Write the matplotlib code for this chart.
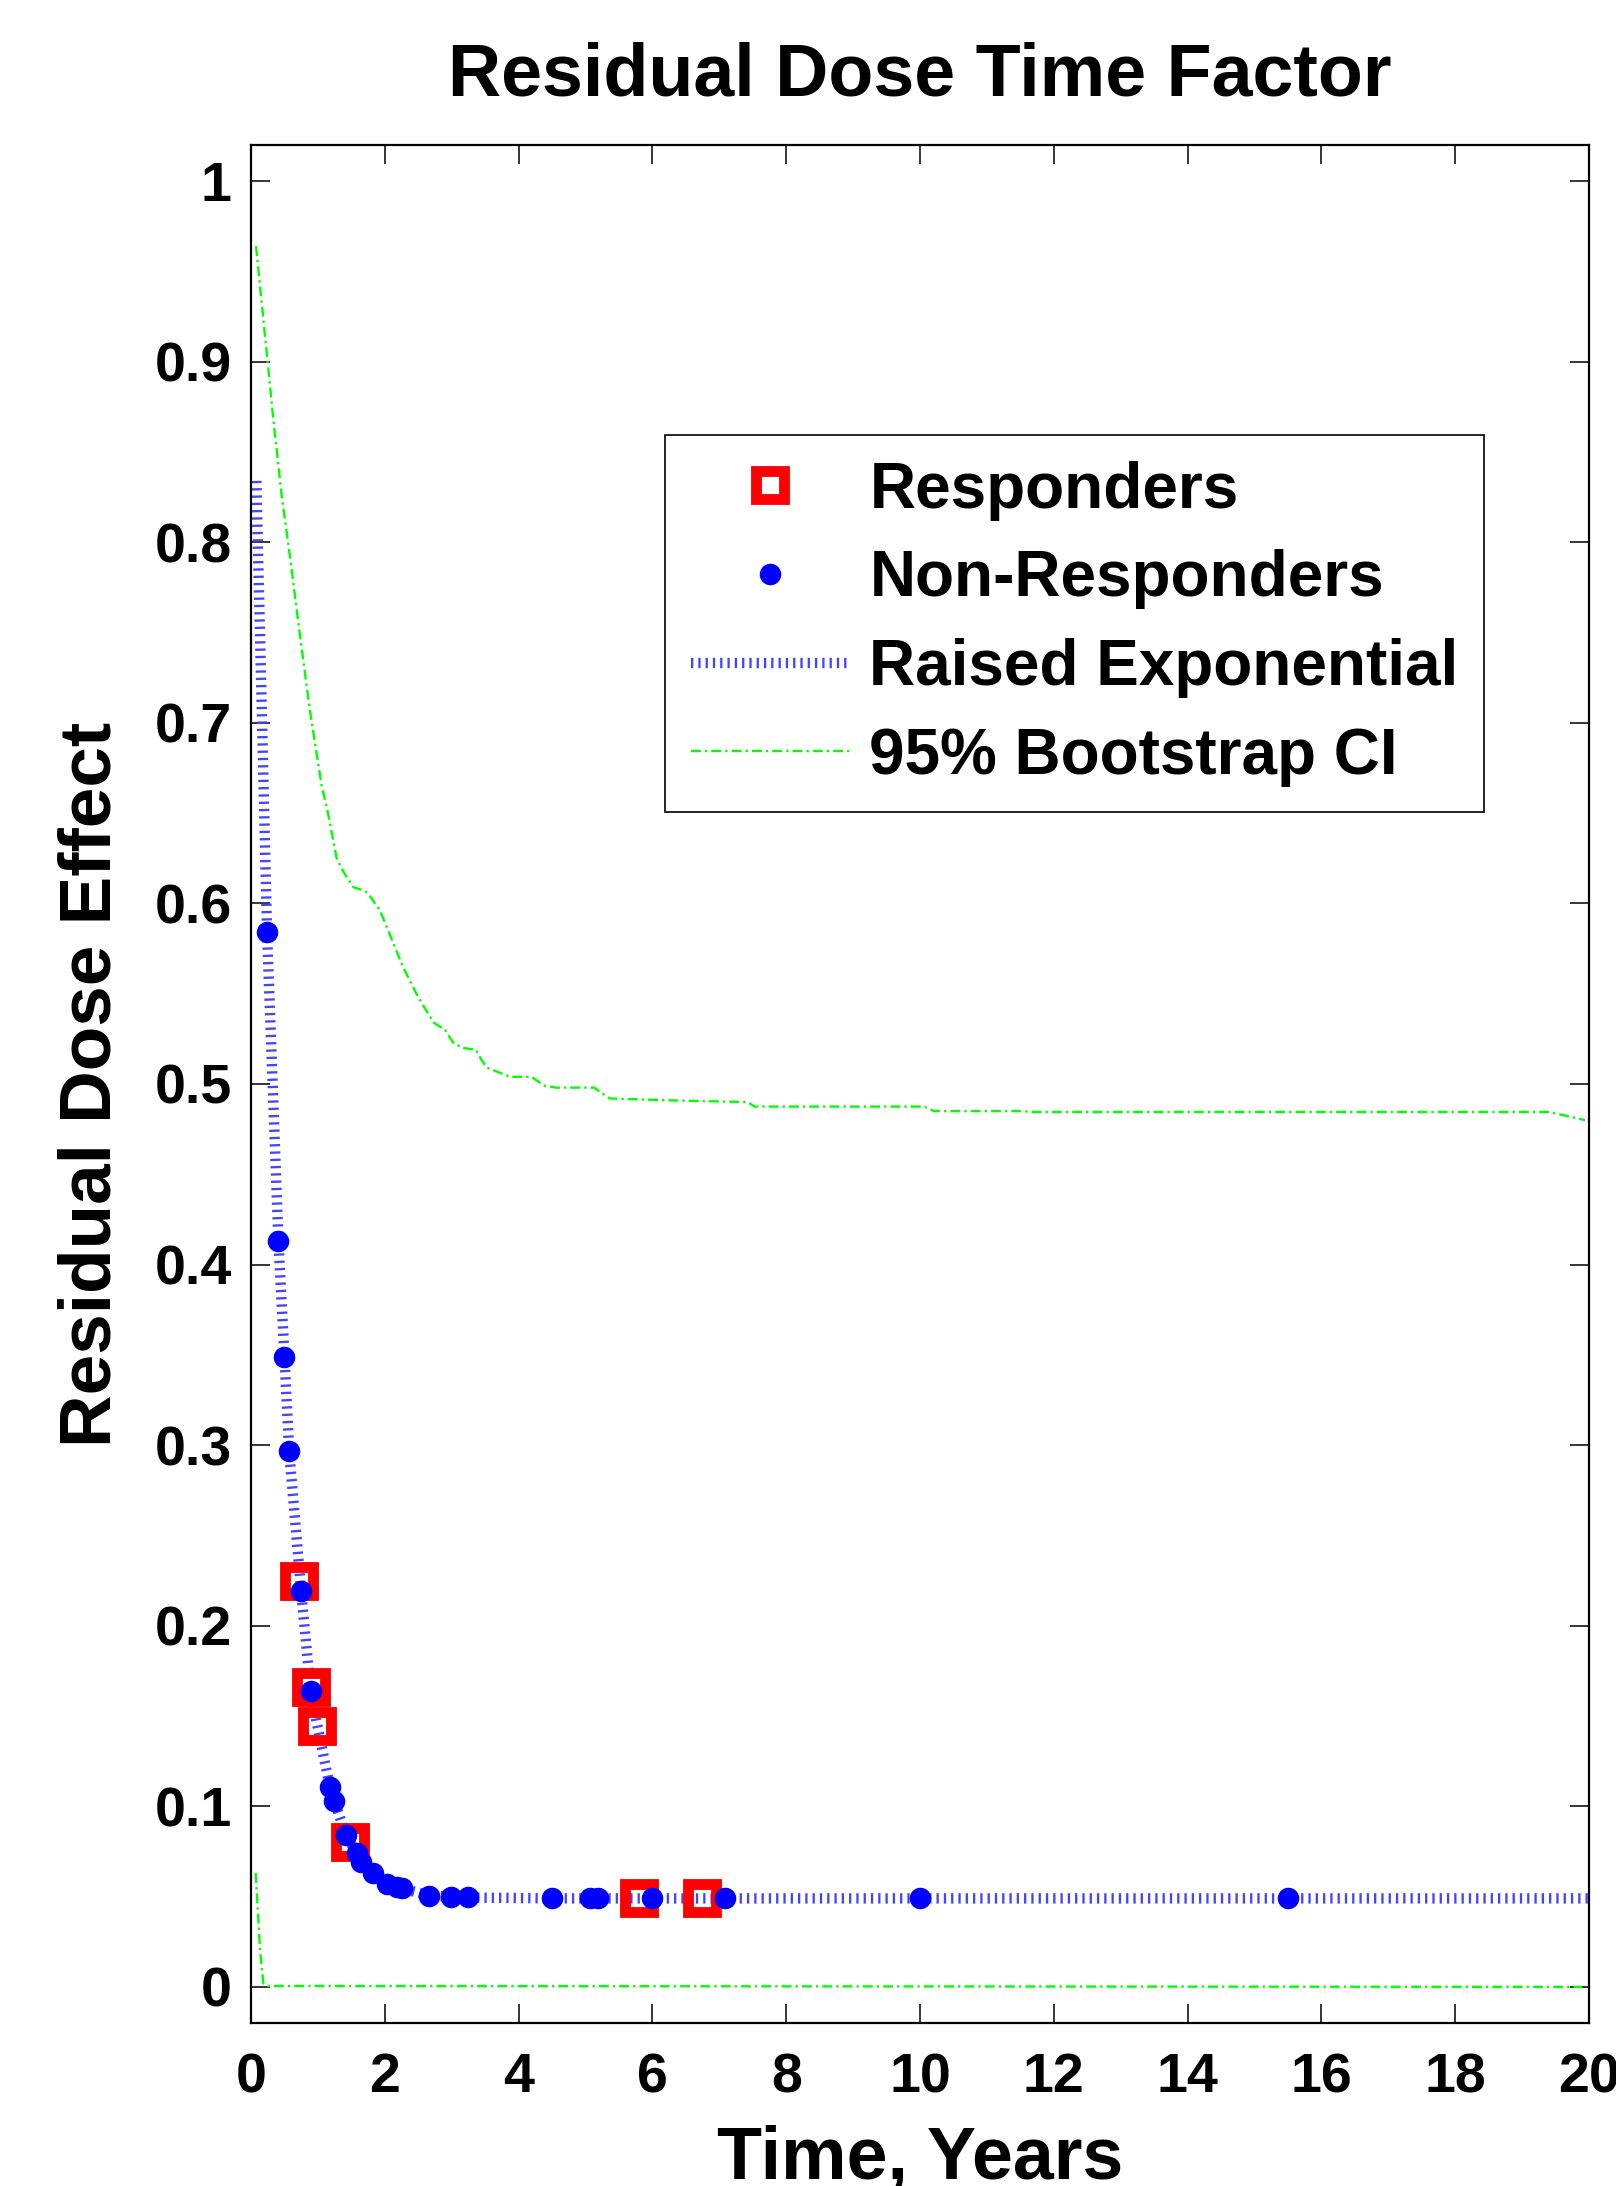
import matplotlib
matplotlib.use("Agg")
import matplotlib.pyplot as plt

# ---------------- data ----------------
resp_t = [0.72, 0.89, 0.99, 1.48, 5.80, 6.74]
resp_y = [0.225, 0.166, 0.1445, 0.080, 0.049, 0.049]

nonresp_t = [0.24, 0.41, 0.50, 0.57, 0.75, 0.89, 1.18, 1.245, 1.42, 1.58, 1.65,
             1.82, 2.03, 2.18, 2.25, 2.66, 2.985, 3.24, 4.50, 5.07, 5.18, 6.0,
             7.09, 10.0, 15.5]
nonresp_y = [0.584, 0.413, 0.349, 0.297, 0.219, 0.164, 0.1106, 0.103, 0.084,
             0.074, 0.069, 0.063, 0.057, 0.0555, 0.0546, 0.0506, 0.050, 0.0495,
             0.049, 0.049, 0.049, 0.049, 0.049, 0.049, 0.049]

fit_t = [0.08, 0.24, 0.41, 0.50, 0.57, 0.75, 0.89, 0.99, 1.18, 1.245, 1.42,
         1.58, 1.82, 2.03, 2.25, 2.66, 2.985, 3.24, 4.50, 20.0]
fit_y = [0.834, 0.584, 0.413, 0.349, 0.297, 0.219, 0.164, 0.145, 0.1106, 0.103,
         0.084, 0.074, 0.063, 0.057, 0.0546, 0.0506, 0.050, 0.0495, 0.049, 0.049]

ci_hi_t = [0.075, 0.235, 0.334, 0.458, 0.583, 0.73, 0.88, 1.057, 1.14, 1.28,
           1.39, 1.53, 1.70, 1.76, 1.93, 2.27, 2.50, 2.73, 2.90, 3.02, 3.16,
           3.36, 3.45, 3.53, 3.87, 4.19, 4.39, 4.56, 5.13, 5.36, 6.2, 7.42,
           7.53, 10.06, 10.21, 11.51, 11.70, 19.41, 19.94]
ci_hi_y = [0.964, 0.905, 0.868, 0.826, 0.792, 0.749, 0.707, 0.665, 0.652, 0.625,
           0.617, 0.609, 0.607, 0.605, 0.596, 0.565, 0.548, 0.534, 0.530, 0.523,
           0.520, 0.519, 0.513, 0.509, 0.504, 0.504, 0.499, 0.498, 0.498, 0.492,
           0.491, 0.490, 0.4875, 0.4875, 0.485, 0.485, 0.4845, 0.4845, 0.480]

ci_lo_t = [0.07, 0.135, 0.185, 0.25, 19.9]
ci_lo_y = [0.063, 0.0205, 0.002, 0.0005, 0.0]

x_ticks = [0, 2, 4, 6, 8, 10, 12, 14, 16, 18, 20]
y_ticks = [0, 0.1, 0.2, 0.3, 0.4, 0.5, 0.6, 0.7, 0.8, 0.9, 1.0]
y_ticklabels = ["0", "0.1", "0.2", "0.3", "0.4", "0.5", "0.6", "0.7", "0.8", "0.9", "1"]

title = "Residual Dose Time Factor"
xlabel = "Time, Years"
ylabel = "Residual Dose Effect"
legend_labels = ["Responders", "Non-Responders", "Raised Exponential", "95% Bootstrap CI"]

# ---------------- style ----------------
plt.rcParams['font.family'] = ['Liberation Sans', 'DejaVu Sans']
plt.rcParams['font.weight'] = 'bold'

W, H, DPI = 1616, 2186, 100
fig = plt.figure(figsize=(W / DPI, H / DPI), dpi=DPI, facecolor='white')
ax = fig.add_axes([251 / W, 1 - 2023 / H, (1589 - 251) / W, (2023 - 145) / H])

BLUE_LINE = '#4444ff'
GREEN = '#00ff00'

fit_line, = ax.plot(fit_t, fit_y, color=BLUE_LINE, lw=7.5,
                    dashes=(0.22, 0.48), dash_capstyle='butt', zorder=2)
ci_hi, = ax.plot(ci_hi_t, ci_hi_y, color=GREEN, lw=1.7,
                 dashes=(4.2, 1.7, 1.0, 1.7), zorder=2)
ax.plot(ci_lo_t, ci_lo_y, color=GREEN, lw=1.7,
        dashes=(4.2, 1.7, 1.0, 1.7), zorder=2)
resp, = ax.plot(resp_t, resp_y, ls='none', marker='s', ms=19.5, mew=7.8,
                mfc='none', mec='#ff0000', zorder=3)
nonresp, = ax.plot(nonresp_t, nonresp_y, ls='none', marker='o', ms=14.5,
                   mfc='#0000ff', mec='#0000ff', zorder=4)

ax.set_xlim(0, 20)
ax.set_ylim(-0.02, 1.02)
ax.set_xticks(x_ticks)
ax.set_xticklabels([str(v) for v in x_ticks])
ax.set_yticks(y_ticks)
ax.set_yticklabels(y_ticklabels)

ax.tick_params(axis='both', which='major', direction='in', length=13.7,
               width=1.1, top=True, right=True, labelsize=40, color='black')
ax.tick_params(axis='x', pad=21)
ax.tick_params(axis='y', pad=14)
for sp in ax.spines.values():
    sp.set_linewidth(1.6)
    sp.set_color('black')

ax.set_title(title, fontsize=53, fontweight='bold', pad=36)
ax.set_xlabel(xlabel, fontsize=53, fontweight='bold', labelpad=15)
ax.set_ylabel(ylabel, fontsize=52.5, fontweight='bold', labelpad=21)

leg = ax.legend([resp, nonresp, fit_line, ci_hi], legend_labels,
                loc='upper left', bbox_to_anchor=(0.3094, 0.8456),
                borderaxespad=0, fontsize=46, frameon=True, fancybox=False,
                edgecolor='black', framealpha=1, handlelength=2.5,
                handletextpad=0.3, labelspacing=0.45, borderpad=0.4,
                numpoints=1)
leg.get_frame().set_linewidth(1.2)

fig.savefig('out.png', dpi=DPI, facecolor='white')
